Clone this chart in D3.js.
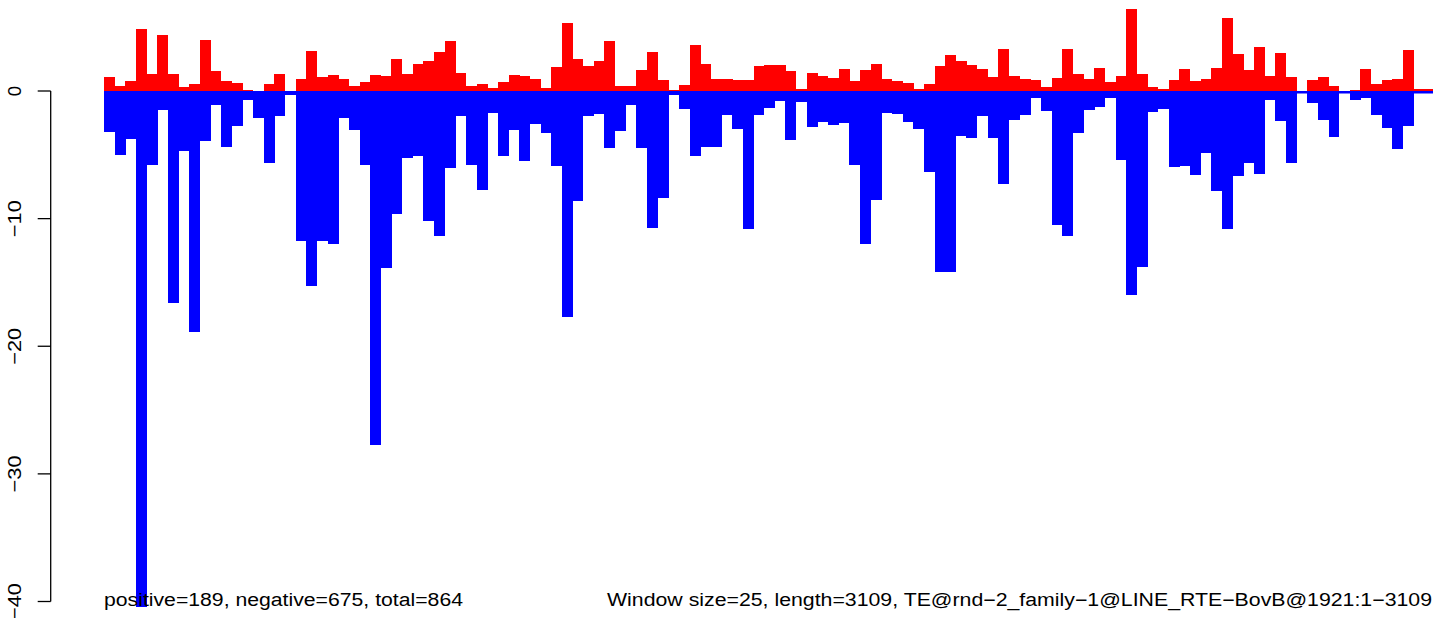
<!DOCTYPE html>
<html>
<head>
<meta charset="utf-8">
<script src="https://cdn.jsdelivr.net/npm/d3@7"></script>
<style>
  body { margin: 0; background: #fff; }
  svg { display: block; }
  text { font-family: "Liberation Sans", Arial, Helvetica, sans-serif; fill: #000; }
</style>
</head>
<body>
<svg width="1433" height="618"></svg>
<script>
// positive / negative score per window (window size = 25)
const positiveValues = [
    1.10, 0.39, 0.78, 4.86, 1.33, 4.39, 1.33, 0.31, 0.55, 4.00,
    1.57, 0.78, 0.63, 0.08, 0, 0.55, 1.33, 0, 0.94, 3.14,
    1.10, 1.25, 0.94, 0.39, 0.71, 1.25, 1.18, 2.51, 1.33, 2.12,
    2.35, 3.06, 3.92, 1.41, 0.39, 0.55, 0.24, 0.71, 1.25, 1.18,
    0.94, 0.24, 1.88, 5.33, 2.51, 1.96, 2.35, 3.92, 0.39, 0.39,
    1.65, 3.06, 0.86, 0.08, 0.47, 3.61, 2.12, 0.94, 0.94, 0.86,
    0.86, 1.96, 2.04, 2.04, 1.57, 0.16, 1.41, 1.18, 1.02, 1.73,
    0.78, 1.65, 2.12, 0.94, 0.78, 0.63, 0.16, 0.55, 1.96, 2.82,
    2.35, 2.04, 1.73, 1.10, 3.29, 1.18, 0.94, 0.86, 0.31, 1.02,
    3.29, 1.33, 0.94, 1.80, 0.71, 1.18, 6.43, 1.33, 0.31, 0.16,
    0.86, 1.73, 0.78, 0.94, 1.80, 5.73, 2.90, 1.65, 3.45, 1.18,
    2.98, 1.10, 0, 0.86, 1.10, 0.39, 0, 0.08, 1.73, 0.55,
    0.86, 0.94, 3.22, 0.16, 0.16
];

const negativeValues = [
    -3.19, -4.99, -3.74, -40.4, -5.78, -1.46, -16.6, -4.68, -18.88, -3.90,
    -1.07, -4.37, -2.72, -0.68, -2.09, -5.62, -1.93, -0.29, -11.74, -15.27,
    -11.74, -11.97, -2.09, -3.03, -5.78, -27.76, -13.86, -9.62, -5.23, -5.07,
    -10.17, -11.35, -6.01, -1.93, -5.78, -7.74, -1.70, -5.07, -3.03, -5.46,
    -2.56, -3.27, -5.86, -17.7, -8.60, -1.93, -1.78, -4.44, -3.11, -1.07,
    -4.44, -10.72, -8.37, -0.29, -1.39, -5.07, -4.37, -4.37, -1.86, -2.95,
    -10.80, -1.86, -1.31, -0.76, -3.82, -0.84, -2.80, -2.41, -2.64, -2.48,
    -5.78, -11.97, -8.52, -1.70, -1.78, -2.41, -2.95, -6.33, -14.17, -14.17,
    -3.50, -3.66, -1.93, -3.66, -7.27, -2.25, -1.86, -0.52, -1.54, -10.48,
    -11.35, -3.27, -1.46, -1.23, -0.52, -5.39, -15.97, -13.78, -1.62, -1.39,
    -5.93, -5.86, -6.56, -4.84, -7.82, -10.80, -6.64, -5.62, -6.48, -0.68,
    -2.33, -5.62, 0, -0.92, -2.25, -3.58, 0, -0.68, -0.52, -1.86,
    -2.88, -4.52, -2.72, 0, 0
];

const yTicks = [0, -10, -20, -30, -40];

const leftNote = "positive=189, negative=675, total=864";
const rightNote = "Window size=25, length=3109, TE@rnd\u22122_family\u22121@LINE_RTE\u2212BovB@1921:1\u22123109";

const svg = d3.select("svg");

const x = d3.scaleBand()
    .domain(d3.range(positiveValues.length))
    .range([104, 1435])
    .padding(0);

const y = d3.scaleLinear()
    .domain([-40, 0])
    .range([601.5, 91]);

// zero line (zero-height bars show as a thin blue line)
svg.append("line")
    .attr("x1", x(0)).attr("x2", 1433)
    .attr("y1", y(0) + 1.2).attr("y2", y(0) + 1.2)
    .attr("stroke", "blue")
    .attr("stroke-width", 2.5);

svg.append("g")
    .attr("shape-rendering", "crispEdges")
    .selectAll("rect").data(negativeValues)
    .enter().append("rect")
    .attr("x", (d, i) => x(i))
    .attr("y", y(0))
    .attr("width", x.bandwidth() + 0.3)
    .attr("height", d => y(d) - y(0))
    .attr("fill", "blue");

svg.append("g")
    .attr("shape-rendering", "crispEdges")
    .selectAll("rect").data(positiveValues)
    .enter().append("rect")
    .attr("x", (d, i) => x(i))
    .attr("y", d => y(d))
    .attr("width", x.bandwidth() + 0.3)
    .attr("height", d => y(0) - y(d))
    .attr("fill", "red");

// R style y axis
const axisX = 50.7;
const yAxis = svg.append("g");
yAxis.append("line")
    .attr("x1", axisX).attr("x2", axisX)
    .attr("y1", y(0)).attr("y2", y(-40))
    .attr("stroke", "#000").attr("stroke-width", 1.3);

yAxis.selectAll(".tick").data(yTicks)
    .enter().append("line")
    .attr("x1", axisX - 13).attr("x2", axisX)
    .attr("y1", d => y(d)).attr("y2", d => y(d))
    .attr("stroke", "#000").attr("stroke-width", 1.3);

const tickLabel = d => d === 0 ? "0" : "\u2212" + Math.abs(d);

yAxis.selectAll(".label").data(yTicks)
    .enter().append("text")
    .attr("transform", d => `translate(21,${y(d)}) rotate(-90)`)
    .attr("text-anchor", "middle")
    .attr("font-size", 18.5)
    .attr("textLength", d => d === 0 ? null : 37)
    .attr("lengthAdjust", "spacingAndGlyphs")
    .text(tickLabel);

svg.append("text")
    .attr("x", 104)
    .attr("y", 606)
    .attr("font-size", 18)
    .attr("textLength", 359)
    .attr("lengthAdjust", "spacingAndGlyphs")
    .text(leftNote);

svg.append("text")
    .attr("x", 607)
    .attr("y", 606)
    .attr("font-size", 18)
    .attr("textLength", 825)
    .attr("lengthAdjust", "spacingAndGlyphs")
    .text(rightNote);
</script>
</body>
</html>
